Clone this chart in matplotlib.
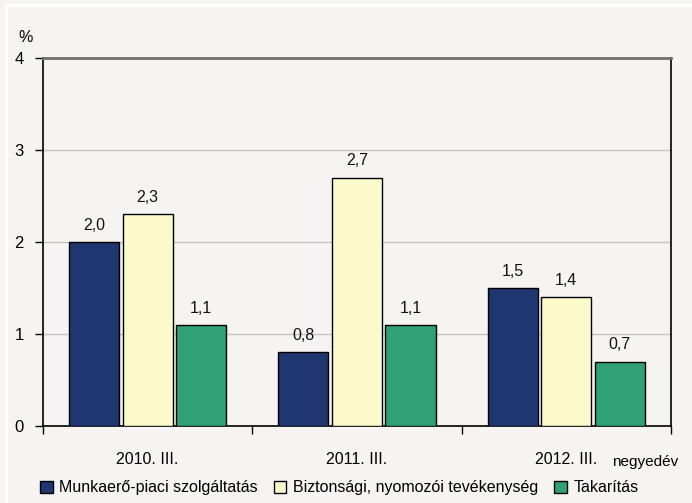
import matplotlib
matplotlib.use('Agg')
import matplotlib.pyplot as plt
from matplotlib.lines import Line2D
from matplotlib.patches import Patch
import numpy as np

plt.rcParams['font.family'] = ['Liberation Sans', 'DejaVu Sans']

# data
periods = ['2010. III.', '2011. III.', '2012. III.']
series_names = ['Munkaerő-piaci szolgáltatás', 'Biztonsági, nyomozói tevékenység', 'Takarítás']
munkaero = [2.0, 0.8, 1.5]
biztonsagi = [2.3, 2.7, 1.4]
takaritas = [1.1, 1.1, 0.7]
colors = ['#1f3670', '#fafacb', '#2fa077']

bg = '#f5f4f2'
fig = plt.figure(figsize=(6.92, 5.03), dpi=100, facecolor=bg)
ax = fig.add_axes([0.0621, 0.1531, 0.9075, 0.7316])
ax.set_facecolor(bg)

x = np.arange(len(periods))
width = 0.24
step = 0.256
for k, vals in enumerate([munkaero, biztonsagi, takaritas]):
    pos = x + (k - 1) * step
    ax.bar(pos, vals, width, color=colors[k], edgecolor='black', linewidth=1.0,
           label=series_names[k], zorder=3)
    for p, v in zip(pos, vals):
        ax.text(p, v + 0.1, f'{v:.1f}'.replace('.', ','), ha='center', va='bottom',
                fontsize=11.5, color='#111111', zorder=4)

ax.set_xlim(-0.5, 2.5)
ax.set_ylim(0, 4)
ax.set_yticks([0, 1, 2, 3, 4])
ax.grid(axis='y', color='#c4c4c4', linewidth=1.0, zorder=0)
ax.tick_params(axis='y', length=6, width=1, pad=8, labelsize=12)

# category labels centred, tick marks at boundaries
ax.set_xticks([-0.5, 0.5, 1.5, 2.5])
ax.set_xticklabels([])
ax.tick_params(axis='x', which='major', length=6, width=1)
ax.set_xticks(x, minor=True)
ax.set_xticklabels(periods, minor=True, fontsize=11.5)
ax.tick_params(axis='x', which='minor', length=0, pad=19)

for s in ['left', 'right', 'bottom']:
    ax.spines[s].set_color('black')
    ax.spines[s].set_linewidth(1.2)
ax.spines['top'].set_color('#707070')
ax.spines['top'].set_linewidth(2)

fig.text(0.026, 0.926, '%', fontsize=11.5, ha='left', va='center')
fig.text(0.884, 0.082, 'negyedév', fontsize=11, ha='left', va='center')

handles = [Patch(facecolor=c, edgecolor='black', linewidth=1.0) for c in colors]
fig.legend(handles, series_names, loc='center', bbox_to_anchor=(0.49, 0.03), ncol=3,
           frameon=False, fontsize=11.5, handlelength=0.8, handleheight=0.8,
           handletextpad=0.4, columnspacing=1.0)

# white frame line at top and left
fig.add_artist(Line2D([0.009, 1.0], [0.99, 0.99], color='white', linewidth=2,
                      transform=fig.transFigure))
fig.add_artist(Line2D([0.009, 0.009], [0.0, 0.99], color='white', linewidth=2,
                      transform=fig.transFigure))

fig.savefig('out.png', dpi=100, facecolor=bg)
